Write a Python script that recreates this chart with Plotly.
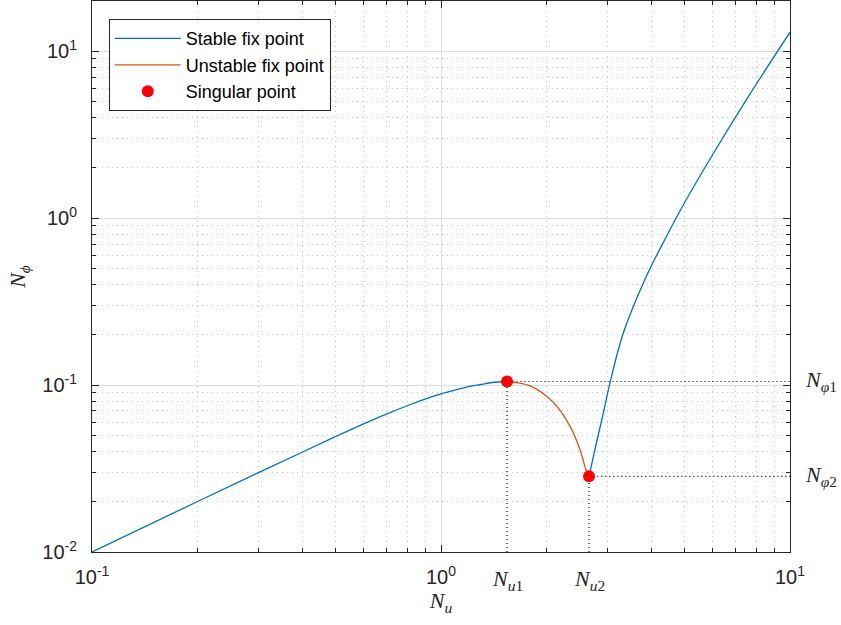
import numpy as np
import plotly.graph_objects as go

# ---- data ----
x_stable_low = [0.1, 0.2, 0.3, 0.4, 0.5, 0.6, 0.7, 0.8, 0.9, 1.0, 1.1, 1.2, 1.3, 1.4, 1.546]
y_stable_low = [0.01, 0.0200, 0.0299, 0.0396, 0.0493, 0.0585, 0.0672, 0.0752, 0.0824, 0.0885,
                0.0935, 0.0978, 0.1008, 0.1036, 0.1051]

x_unstable = [1.546, 1.80, 2.10, 2.34, 2.50, 2.60, 2.655]
y_unstable = [0.1051, 0.0990, 0.0787, 0.0570, 0.0413, 0.0313, 0.0284]

x_stable_high = [2.655, 2.79, 2.92, 3.05, 3.33, 3.88, 4.43, 5.0, 6.03, 7.51, 10.0]
y_stable_high = [0.0284, 0.0453, 0.0683, 0.1035, 0.205, 0.45, 0.78, 1.25, 2.44, 5.15, 13.0]

x_singular = [1.546, 2.655]
y_singular = [0.1051, 0.0284]

x_range = [0.1, 10]
y_range = [0.01, 20]

y_major_vals = [0.01, 0.1, 1, 10]
y_major_text = ["10<sup>-2</sup>", "10<sup>-1</sup>", "10<sup>0</sup>", "10<sup>1</sup>"]
x_major_vals = [0.1, 1, 10]
x_major_text = ["10<sup>-1</sup>", "10<sup>0</sup>", "10<sup>1</sup>"]
x_labels_special = ["<i>N</i><sub><i>u</i>1</sub>", "<i>N</i><sub><i>u</i>2</sub>"]
y_labels_special = ["<i>N</i><sub><i>φ</i>1</sub>", "<i>N</i><sub><i>φ</i>2</sub>"]

BLUE = "#0072BD"
ORANGE = "#D95319"
RED = "#FF0000"
AX = "#262626"
SANS = "Liberation Sans, Arial, sans-serif"
SERIF = "Liberation Serif, Times New Roman, serif"

minor_x = [m * 10.0**e for e in (-1, 0) for m in range(2, 10)]
minor_y = [m * 10.0**e for e in (-2, -1, 0, 1) for m in range(2, 10)]
minor_y = [v for v in minor_y if v <= y_range[1]]

fig = go.Figure()

fig.add_trace(go.Scatter(x=x_stable_low, y=y_stable_low, mode="lines",
                         line=dict(color=BLUE, width=1.3, shape="spline"),
                         name="Stable fix point"))
fig.add_trace(go.Scatter(x=x_unstable, y=y_unstable, mode="lines",
                         line=dict(color=ORANGE, width=1.3, shape="spline"),
                         name="Unstable fix point"))
fig.add_trace(go.Scatter(x=x_stable_high, y=y_stable_high, mode="lines",
                         line=dict(color=BLUE, width=1.3, shape="spline"),
                         showlegend=False))

# dotted guide lines
for xs, ys in zip(x_singular, y_singular):
    fig.add_trace(go.Scatter(x=[xs, xs, x_range[1]], y=[y_range[0], ys, ys], mode="lines",
                             line=dict(color="black", width=1.2, dash="1px,3px"),
                             showlegend=False, hoverinfo="skip"))

fig.add_trace(go.Scatter(x=x_singular, y=y_singular, mode="markers",
                         marker=dict(color=RED, size=12),
                         name="Singular point"))

for xs, lab in zip(x_singular, x_labels_special):
    fig.add_annotation(x=np.log10(xs), y=-0.022, xref="x", yref="paper",
                       text=lab, showarrow=False, yanchor="top", xanchor="center",
                       font=dict(family=SERIF, size=22, color=AX))
for ys, lab in zip(y_singular, y_labels_special):
    fig.add_annotation(x=1.019, y=np.log10(ys), xref="paper", yref="y",
                       text=lab, showarrow=False, xanchor="left", yanchor="middle",
                       font=dict(family=SERIF, size=22, color=AX))

axis_common = dict(
    type="log", showline=True, linecolor=AX, linewidth=1, mirror="allticks",
    ticks="inside", ticklen=7, tickcolor=AX, tickwidth=1,
    showgrid=True, gridcolor="#dcdcdc", gridwidth=1, zeroline=False,
    tickfont=dict(family=SANS, size=20, color=AX),
    tickmode="array",
)
minor_common = dict(tickmode="array", ticks="inside", ticklen=4, tickcolor=AX,
                    showgrid=True, gridcolor="#c4c4c4", griddash="1px,4px", gridwidth=1)

fig.update_xaxes(**axis_common, range=[np.log10(x_range[0]), np.log10(x_range[1])],
                 tickvals=x_major_vals, ticktext=x_major_text, ticklabelstandoff=7,
                 minor=dict(tickvals=minor_x, **minor_common),
                 title=dict(text="<i>N</i><sub><i>u</i></sub>",
                            font=dict(family=SERIF, size=22, color=AX), standoff=0))
fig.update_yaxes(**axis_common, range=[np.log10(y_range[0]), np.log10(y_range[1])],
                 tickvals=y_major_vals, ticktext=y_major_text, ticklabelstandoff=10,
                 minor=dict(tickvals=minor_y, **minor_common),
                 title=dict(text="<i>N</i><sub><i>ϕ</i></sub>",
                            font=dict(family=SERIF, size=22, color=AX), standoff=10))

fig.update_layout(
    width=841, height=625,
    margin=dict(l=92, r=51, t=1, b=73),
    plot_bgcolor="white", paper_bgcolor="white",
    legend=dict(x=0.024, y=0.967, xanchor="left", yanchor="top",
                bgcolor="white", bordercolor=AX, borderwidth=1,
                font=dict(family=SANS, size=18, color="black"),
                itemwidth=66, tracegroupgap=0),
    showlegend=True,
)

fig.write_html("out.html", config={"displayModeBar": False},
               post_script="document.body.style.margin='0';")
